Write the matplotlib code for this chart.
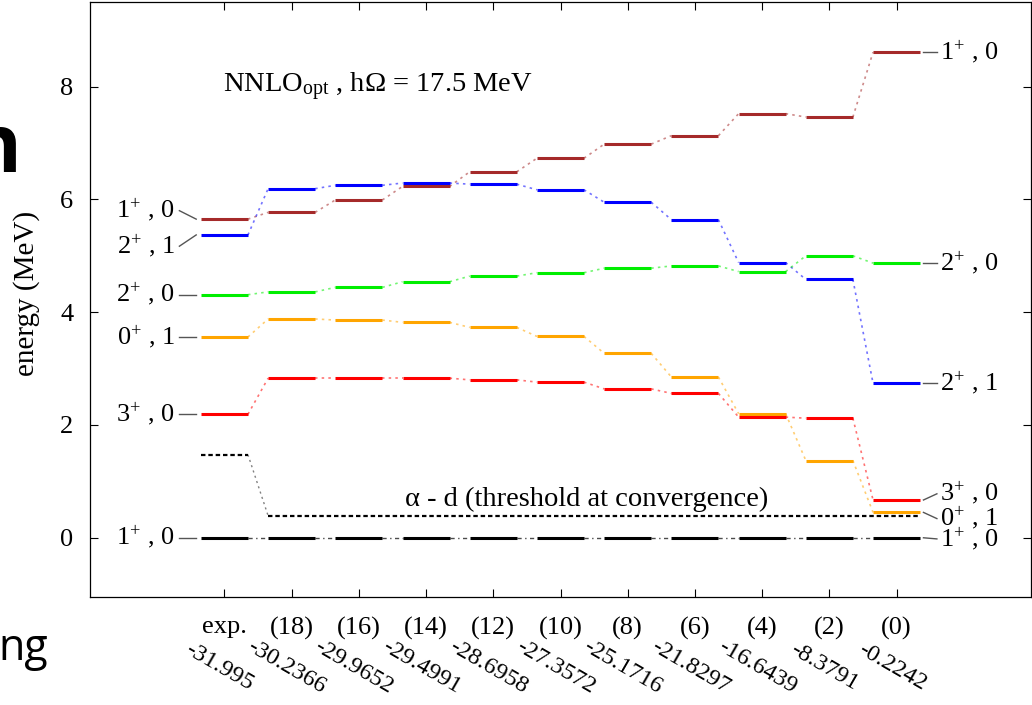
import numpy as np
import matplotlib
matplotlib.use("Agg")
import matplotlib.pyplot as plt

# ---------------------------------------------------------------------------
# Data (energies in MeV)
# ---------------------------------------------------------------------------
columns   = ["exp.", "(18)", "(16)", "(14)", "(12)", "(10)", "(8)", "(6)", "(4)", "(2)", "(0)"]
gs_energy = ["-31.995", "-30.2366", "-29.9652", "-29.4991", "-28.6958", "-27.3572",
             "-25.1716", "-21.8297", "-16.6439", "-8.3791", "-0.2242"]

E_1p0_exc = [5.65, 5.77, 5.99, 6.23, 6.49, 6.73, 6.98, 7.13, 7.52, 7.46, 8.61]
E_2p1     = [5.37, 6.19, 6.25, 6.29, 6.27, 6.17, 5.95, 5.64, 4.88, 4.58, 2.74]
E_2p0     = [4.31, 4.36, 4.44, 4.54, 4.64, 4.70, 4.78, 4.82, 4.72, 5.00, 4.87]
E_0p1     = [3.56, 3.88, 3.86, 3.82, 3.73, 3.57, 3.27, 2.85, 2.20, 1.37, 0.45]
E_3p0     = [2.19, 2.83, 2.83, 2.83, 2.80, 2.76, 2.64, 2.56, 2.14, 2.12, 0.67]
E_1p0_gs  = [0.0] * 11

thr_exp  = 1.474   # alpha-d threshold, experiment
thr_conv = 0.39    # alpha-d threshold at convergence

# left labels: (text, level energy, label position)
left_labels = [
    (r"$1^{+}$ , 0", 5.65, 5.80),
    (r"$2^{+}$ , 1", 5.37, 5.17),
    (r"$2^{+}$ , 0", 4.31, 4.31),
    (r"$0^{+}$ , 1", 3.56, 3.56),
    (r"$3^{+}$ , 0", 2.19, 2.19),
    (r"$1^{+}$ , 0", 0.00, 0.00),
]
right_labels = [
    (r"$1^{+}$ , 0", 8.61, 8.61),
    (r"$2^{+}$ , 0", 4.87, 4.87),
    (r"$2^{+}$ , 1", 2.74, 2.74),
    (r"$3^{+}$ , 0", 0.67, 0.78),
    (r"$0^{+}$ , 1", 0.45, 0.34),
    (r"$1^{+}$ , 0", 0.00, -0.02),
]

# ---------------------------------------------------------------------------
# Style
# ---------------------------------------------------------------------------
plt.rcParams["font.family"] = ["Liberation Serif", "DejaVu Serif"]
plt.rcParams["mathtext.fontset"] = "custom"
plt.rcParams["mathtext.rm"] = "Liberation Serif"
plt.rcParams["mathtext.it"] = "Liberation Serif:italic"
FS = 19
FS_TXT = 20.5
HW = 0.35  # half width of a level line

fig = plt.figure(figsize=(10.32, 7.05), dpi=100)
ax = fig.add_axes([90 / 1032, 1 - 597 / 705, 941 / 1032, 595 / 705])

states = [
    (E_1p0_exc, "#a52a2a"),
    (E_2p1,     "#0000ff"),
    (E_2p0,     "#00ee00"),
    (E_0p1,     "#ffa500"),
    (E_3p0,     "#ff0000"),
]
x = np.arange(len(columns))

for E, col in states:
    for i in x:
        ax.plot([i - HW, i + HW], [E[i], E[i]], color=col, lw=2.2, zorder=3,
                solid_capstyle="butt")
        if i < len(x) - 1:
            ax.plot([i + HW, i + 1 - HW], [E[i], E[i + 1]], color=col, lw=1.2,
                    alpha=0.55, ls=(0, (1.5, 2.5)), zorder=2)

# ground state
for i in x:
    ax.plot([i - HW, i + HW], [E_1p0_gs[i]] * 2, color="black", lw=2.2, zorder=3,
            solid_capstyle="butt")
    if i < len(x) - 1:
        ax.plot([i + HW, i + 1 - HW], [E_1p0_gs[i], E_1p0_gs[i + 1]], color="black",
                lw=1.0, alpha=0.7, ls=(0, (3, 2.5, 1, 2.5)), zorder=2)

# alpha-d threshold
ax.plot([-HW, HW], [thr_exp, thr_exp], color="black", lw=1.6, ls=(0, (2, 1.3)), zorder=3)
ax.plot([HW, 1 - HW], [thr_exp, thr_conv], color="gray", lw=1.0, ls=(0, (1.5, 2.5)), zorder=2)
ax.plot([1 - HW, x[-1] + HW], [thr_conv, thr_conv], color="black", lw=1.6,
        ls=(0, (2, 1.3)), zorder=3)
ax.text(5.39, 0.68, "α - d (threshold at convergence)", fontsize=FS_TXT,
        ha="center", va="center")

# state labels
for txt, E, ypos in left_labels:
    ax.plot([-0.67, -0.42], [ypos, E], color="#555555", lw=1.0)
    ax.text(-0.74, ypos, txt, fontsize=FS, ha="right", va="center")
for txt, E, ypos in right_labels:
    ax.plot([x[-1] + 0.40, x[-1] + 0.60], [E, ypos], color="#555555", lw=1.0)
    ax.text(x[-1] + 0.65, ypos, txt, fontsize=FS, ha="left", va="center")

ax.text(-0.02, 8.0, r"NNLO$_{\rm opt}$ , hΩ = 17.5 MeV", fontsize=FS_TXT,
        ha="left", va="center")

# axes
ax.set_xlim(-2, 12)
ax.set_ylim(-1.05, 9.5)
ax.set_xticks(x)
ax.set_xticklabels(columns, fontsize=FS)
ax.set_yticks([0, 2, 4, 6, 8])
ax.tick_params(axis="both", direction="in", top=True, right=True, length=6,
               width=0.8, labelsize=FS)
ax.tick_params(axis="x", pad=14)
ax.tick_params(axis="y", pad=12)
for sp in ax.spines.values():
    sp.set_linewidth(0.9)

for i, s in zip(x, gs_energy):
    ax.text(i - 0.07, -0.118, s, transform=ax.get_xaxis_transform(), fontsize=17.5,
            rotation=-30, ha="center", va="center")

ax.set_ylabel("energy (MeV)", fontsize=21)
ax.yaxis.set_label_coords(-0.053, 0.511)

# fragments of surrounding page text
fig.text(-31 / 1032, 1 - 172 / 705, "n", fontsize=58, fontweight="bold",
         family="Open Sans", ha="left", va="baseline")
fig.text(-2 / 1032, 1 - 660 / 705, "ng", fontsize=31, family="Open Sans",
         ha="left", va="baseline")

fig.savefig("out.png", dpi=100)
